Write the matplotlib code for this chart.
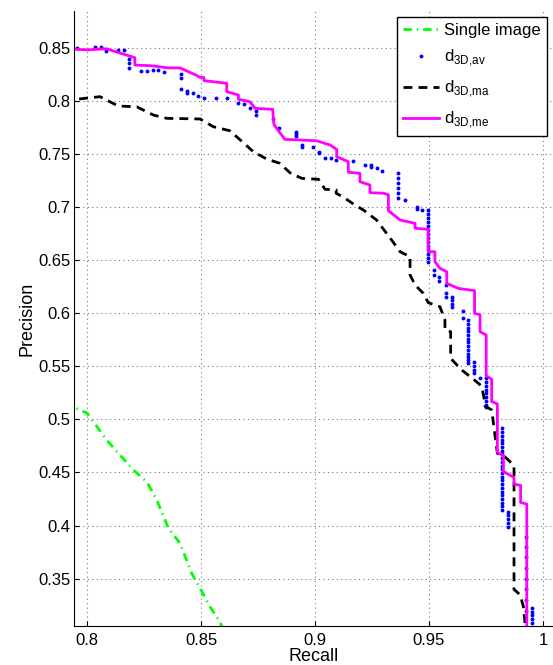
import numpy as np
import matplotlib
matplotlib.use('Agg')
import matplotlib.pyplot as plt

plt.rcParams['font.family'] = ['Liberation Sans', 'DejaVu Sans']
plt.rcParams['mathtext.fontset'] = 'custom'
plt.rcParams['mathtext.rm'] = 'Liberation Sans'

# Single image (green dash-dot)
single_recall = [0.7900, 0.7952, 0.8001, 0.8086, 0.8203, 0.8262, 0.8306, 0.8357,
                 0.8408, 0.8459, 0.8496, 0.8539, 0.8583, 0.8600]
single_prec = [0.5150, 0.5105, 0.5058, 0.4806, 0.4524, 0.4413, 0.4241, 0.3975,
               0.3833, 0.3551, 0.3410, 0.3236, 0.3095, 0.3000]

# d_3D,av (blue dots)
av_recall = [0.7957, 0.8034, 0.8060, 0.8085, 0.8136, 0.8162, 0.8186, 0.8186, 0.8186,
             0.8236, 0.8262, 0.8288, 0.8311, 0.8338, 0.8414, 0.8414, 0.8414, 0.8440,
             0.8440, 0.8465, 0.8488, 0.8513, 0.8564, 0.8615, 0.8664, 0.8689, 0.8715,
             0.8741, 0.8741, 0.8814, 0.8842, 0.8917, 0.8917, 0.8917, 0.8942, 0.8942,
             0.8993, 0.9018, 0.9018, 0.9044, 0.9069, 0.9093, 0.9168, 0.9219, 0.9244,
             0.9247, 0.9271, 0.9295,
             0.9365, 0.9365, 0.9365, 0.9365, 0.9365, 0.9365,
             0.9395, 0.9446, 0.9446, 0.9471,
             0.9497, 0.9497, 0.9497, 0.9497, 0.9497, 0.9497, 0.9497, 0.9497, 0.9497,
             0.9497, 0.9497, 0.9497, 0.9497, 0.9497,
             0.9522, 0.9522, 0.9545, 0.9545, 0.9575, 0.9575, 0.9575,
             0.9600, 0.9600, 0.9600, 0.9600,
             0.9648, 0.9648,
             0.9672, 0.9672, 0.9672, 0.9672, 0.9672, 0.9672, 0.9672, 0.9672, 0.9672,
             0.9672, 0.9672, 0.9672, 0.9672,
             0.9699, 0.9699, 0.9699, 0.9699,
             0.9724,
             0.9749, 0.9749, 0.9749, 0.9749, 0.9749, 0.9749, 0.9749, 0.9749, 0.9749,
             0.9822, 0.9822, 0.9822, 0.9822, 0.9822, 0.9822, 0.9822, 0.9822, 0.9822,
             0.9822, 0.9822, 0.9822, 0.9822, 0.9822, 0.9822, 0.9822, 0.9822, 0.9822,
             0.9822, 0.9822, 0.9822, 0.9822, 0.9822,
             0.9848, 0.9848, 0.9848, 0.9848, 0.9848,
             0.9925, 0.9925, 0.9925, 0.9925, 0.9925, 0.9925, 0.9925, 0.9925,
             0.9950, 0.9950, 0.9950, 0.9950, 0.9950]
av_prec = [0.8500, 0.8507, 0.8509, 0.8472, 0.8478, 0.8478, 0.8394, 0.8353, 0.8312,
           0.8281, 0.8283, 0.8287, 0.8293, 0.8274, 0.8250, 0.8212, 0.8111, 0.8092,
           0.8071, 0.8076, 0.8042, 0.8029, 0.8024, 0.8029, 0.7982, 0.7970, 0.7935,
           0.7904, 0.7866, 0.7830, 0.7747, 0.7709, 0.7692, 0.7671, 0.7584, 0.7568,
           0.7562, 0.7521, 0.7506, 0.7461, 0.7464, 0.7443, 0.7430, 0.7393, 0.7398,
           0.7379, 0.7364, 0.7339,
           0.7317, 0.7270, 0.7229, 0.7176, 0.7129, 0.7082,
           0.7066, 0.7003, 0.6981, 0.6972,
           0.6972, 0.6935, 0.6895, 0.6860, 0.6820, 0.6785, 0.6745, 0.6710, 0.6670,
           0.6635, 0.6600, 0.6560, 0.6520, 0.6480,
           0.6407, 0.6360, 0.6344, 0.6306, 0.6265, 0.6187, 0.6155,
           0.6155, 0.6120, 0.6090, 0.6061,
           0.6024, 0.5952,
           0.5936, 0.5900, 0.5865, 0.5830, 0.5795, 0.5760, 0.5725, 0.5690, 0.5655,
           0.5620, 0.5590, 0.5560, 0.5528,
           0.5543, 0.5500, 0.5465, 0.5434,
           0.5393,
           0.5387, 0.5350, 0.5315, 0.5280, 0.5245, 0.5210, 0.5175, 0.5140, 0.5120,
           0.4916, 0.4880, 0.4845, 0.4810, 0.4775, 0.4740, 0.4705, 0.4670, 0.4635,
           0.4600, 0.4565, 0.4530, 0.4495, 0.4460, 0.4425, 0.4390, 0.4355, 0.4320,
           0.4285, 0.4250, 0.4215, 0.4180, 0.4147,
           0.4131, 0.4095, 0.4060, 0.4025, 0.3990,
           0.3896, 0.3800, 0.3700, 0.3600, 0.3500, 0.3400, 0.3300, 0.3200,
           0.3224, 0.3190, 0.3155, 0.3120, 0.3085]

# d_3D,ma (black dashed)
ma_recall = [0.7900, 0.8000, 0.8057, 0.8137, 0.8218, 0.8291, 0.8350, 0.8496, 0.8554,
             0.8627, 0.8730, 0.8788, 0.8846, 0.8890, 0.8942, 0.9015, 0.9044, 0.9093,
             0.9093, 0.9132, 0.9175, 0.9212, 0.9270, 0.9336, 0.9373, 0.9417, 0.9417,
             0.9439, 0.9475, 0.9497, 0.9548, 0.9570, 0.9570, 0.9595, 0.9595, 0.9643,
             0.9695, 0.9731, 0.9745, 0.9745, 0.9775, 0.9800, 0.9833, 0.9873, 0.9873,
             0.9900, 0.9914, 0.9925]
ma_prec = [0.8000, 0.8026, 0.8039, 0.7951, 0.7944, 0.7866, 0.7835, 0.7829, 0.7756,
           0.7718, 0.7520, 0.7452, 0.7411, 0.7323, 0.7270, 0.7261, 0.7167, 0.7160,
           0.7130, 0.7082, 0.7019, 0.6972, 0.6878, 0.6689, 0.6579, 0.6532, 0.6360,
           0.6266, 0.6187, 0.6099, 0.6061, 0.5936, 0.5842, 0.5826, 0.5575, 0.5466,
           0.5378, 0.5314, 0.5163, 0.5126, 0.5089, 0.4680, 0.4648, 0.4565, 0.3399,
           0.3347, 0.3237, 0.3000]

# d_3D,me (magenta solid)
me_recall = [0.7900, 0.8001, 0.8085, 0.8210, 0.8210, 0.8284, 0.8357, 0.8408, 0.8480,
             0.8496, 0.8513, 0.8513, 0.8613, 0.8613, 0.8664, 0.8664, 0.8715, 0.8737,
             0.8814, 0.8820, 0.8868, 0.9007, 0.9066, 0.9095, 0.9095, 0.9146, 0.9146,
             0.9197, 0.9197, 0.9241, 0.9241, 0.9300, 0.9322, 0.9322, 0.9373, 0.9439,
             0.9439, 0.9497, 0.9497, 0.9526, 0.9526, 0.9548, 0.9578, 0.9578, 0.9628,
             0.9700, 0.9700, 0.9724, 0.9724, 0.9751, 0.9751, 0.9775, 0.9775, 0.9800,
             0.9800, 0.9826, 0.9826, 0.9873, 0.9873, 0.9902, 0.9902, 0.9929, 0.9929]
me_prec = [0.8490, 0.8480, 0.8490, 0.8406, 0.8337, 0.8330, 0.8310, 0.8310, 0.8240,
           0.8220, 0.8220, 0.8190, 0.8165, 0.8086, 0.8055, 0.8014, 0.7991, 0.7929,
           0.7920, 0.7775, 0.7637, 0.7624, 0.7584, 0.7543, 0.7474, 0.7427, 0.7327,
           0.7317, 0.7238, 0.7207, 0.7135, 0.7130, 0.7115, 0.6966, 0.6878, 0.6846,
           0.6800, 0.6790, 0.6579, 0.6579, 0.6485, 0.6423, 0.6390, 0.6281, 0.6234,
           0.6212, 0.5999, 0.5985, 0.5826, 0.5794, 0.5411, 0.5378, 0.5167, 0.5145,
           0.4691, 0.4657, 0.4510, 0.4453, 0.4390, 0.4378, 0.4218, 0.4202, 0.3000]

fig = plt.figure(figsize=(5.53, 6.65), dpi=100)
ax = fig.add_axes([0.1347, 0.0591, 0.8653, 0.9239])

ax.plot(single_recall, single_prec, color='#00ff00', lw=2,
        ls=(0, (3, 1.8, 0.5, 1.8)), label='Single image')
ax.plot(av_recall, av_prec, ls='none', marker='o', ms=2.8, mec='none',
        color='#0000ff', label=r'd$_{\mathregular{3D{,}av}}$')
ax.plot(ma_recall, ma_prec, color='black', lw=2, ls=(0, (3.2, 2.2)),
        label=r'd$_{\mathregular{3D{,}ma}}$')
ax.plot(me_recall, me_prec, color='#ff00ff', lw=2, label=r'd$_{\mathregular{3D{,}me}}$')

ax.set_xlim(0.7945, 1.0044)
ax.set_ylim(0.3057, 0.8843)
ax.set_xticks([0.8, 0.85, 0.9, 0.95, 1.0])
ax.set_xticklabels(['0.8', '0.85', '0.9', '0.95', '1'])
yt = [0.35, 0.4, 0.45, 0.5, 0.55, 0.6, 0.65, 0.7, 0.75, 0.8, 0.85]
ax.set_yticks(yt)
ax.set_yticklabels(['0.35', '0.4', '0.45', '0.5', '0.55', '0.6', '0.65',
                    '0.7', '0.75', '0.8', '0.85'])
ax.tick_params(direction='in', length=3.5, width=0.8, labelsize=12)
ax.tick_params(axis='x', pad=5)
ax.tick_params(axis='y', pad=3)
ax.grid(True, ls=(0, (1, 3)), color='#777777', lw=0.8)
ax.spines['top'].set_visible(False)
ax.spines['right'].set_visible(False)

ax.set_xlabel('Recall', fontsize=13, labelpad=0)
ax.set_ylabel('Precision', fontsize=13, labelpad=2)

leg = ax.legend(loc='upper right', bbox_to_anchor=(546.7 / 553, 1 - 16.7 / 665),
                bbox_transform=fig.transFigure, borderaxespad=0, fontsize=12,
                fancybox=False, framealpha=1, edgecolor='black',
                handlelength=2.2, handletextpad=0.3, labelspacing=0.62,
                borderpad=0.35)
leg.get_frame().set_linewidth(1.0)

fig.savefig('out.png', dpi=100)
